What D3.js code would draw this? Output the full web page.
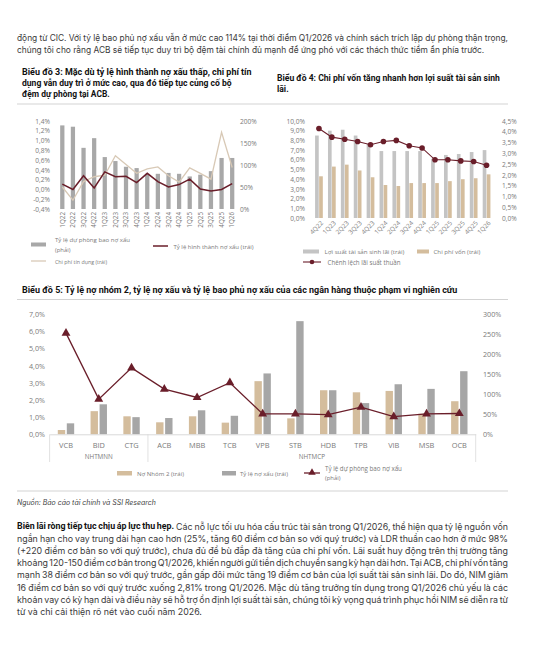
<!DOCTYPE html>
<html><head><meta charset="utf-8">
<script src="https://cdn.jsdelivr.net/npm/d3@7"></script>
<style>html,body{margin:0;padding:0;background:#fff;}svg{display:block}</style>
</head><body>
<svg id="page" width="542" height="659"></svg>
<script>
// ---------------- DATA ----------------
const topParagraph = [
  "động từ CIC. Với tỷ lệ bao phủ nợ xấu vẫn ở mức cao 114% tại thời điểm Q1/2026 và chính sách trích lập dự phòng thận trọng,",
  "chúng tôi cho rằng ACB sẽ tiếp tục duy trì bộ đệm tài chính đủ mạnh để ứng phó với các thách thức tiềm ẩn phía trước."
];
const title3 = ["Biểu đồ 3: Mặc dù tỷ lệ hình thành nợ xấu thấp, chi phí tín",
                "dụng vẫn duy trì ở mức cao, qua đó tiếp tục củng cố bộ",
                "đệm dự phòng tại ACB."];
const title4 = ["Biểu đồ 4: Chi phí vốn tăng nhanh hơn lợi suất tài sản sinh", "lãi."];
const title5 = "Biểu đồ 5: Tỷ lệ nợ nhóm 2, tỷ lệ nợ xấu và tỷ lệ bao phủ nợ xấu của các ngân hàng thuộc phạm vi nghiên cứu";

// Chart 3
const c3Quarters = ["1Q22","2Q22","3Q22","4Q22","1Q23","2Q23","3Q23","4Q23","1Q24","2Q24","3Q24","4Q24","1Q25","2Q25","3Q25","4Q25","1Q26"];
const c3Coverage = [190,187,139,161,118,109,96,93,80,80,82,80,74,78,86,116,116];           // right axis, %
const c3NplFormation = [0.11,0.00,0.28,0.03,0.36,0.26,0.27,0.14,0.33,0.16,0.05,0.10,0.21,0.01,-0.03,0.00,0.12]; // left, %
const c3CreditCost = [0.05,-0.22,0.16,0.26,0.29,0.69,0.51,0.33,0.42,0.46,0.28,0.15,0.44,0.33,0.21,1.17,0.45];    // left, %
const c3LeftTicks = [-0.4,-0.2,0,0.2,0.4,0.6,0.8,1.0,1.2,1.4];
const c3RightTicks = [0,50,100,150,200];
const c3Legend = ["Tỷ lệ dự phòng bao nợ xấu", "(phải)", "Tỷ lệ hình thành nợ xấu (trái)", "Chi phí tín dụng (trái)"];

// Chart 4
const c4Quarters = ["4Q22","1Q23","2Q23","3Q23","4Q23","1Q24","2Q24","3Q24","4Q24","1Q25","2Q25","3Q25","4Q25","1Q26"];
const c4Yield = [8.5,9.0,9.1,8.5,7.6,6.9,6.9,6.9,6.9,6.1,6.5,6.6,6.8,7.0];
const c4CoF = [4.3,5.3,5.5,4.9,4.2,3.4,3.3,3.6,3.6,3.6,3.8,4.0,4.1,4.5];
const c4NIM = [4.15,3.75,3.65,3.55,3.4,3.55,3.6,3.35,3.25,2.7,2.7,2.65,2.62,2.45];
const c4LeftTicks = [0,1,2,3,4,5,6,7,8,9,10];
const c4RightTicks = [0,0.5,1,1.5,2,2.5,3,3.5,4,4.5];
const c4Legend = ["Lợi suất tài sản sinh lãi (trái)", "Chi phí vốn (trái)", "Chênh lệch lãi suất thuần"];

// Chart 5
const c5Banks = ["VCB","BID","CTG","ACB","MBB","TCB","VPB","STB","HDB","TPB","VIB","MSB","OCB"];
const c5Groups = [{name:"NHTMNN", from:0, to:3},{name:"NHTMCP", from:3, to:13}];
const c5Group2 = [0.25,1.35,1.05,0.70,1.05,0.68,3.10,0.93,2.57,2.45,2.53,1.20,1.93];
const c5NPL = [0.64,1.75,1.00,0.95,1.40,1.08,3.55,6.60,2.57,1.82,2.92,2.65,3.68];
const c5Coverage = [253,88,166,113,92,129,51,51,49,68,44,51,52];
const c5LeftTicks = [0,1,2,3,4,5,6,7];
const c5RightTicks = [0,50,100,150,200,250,300];
const c5Legend = ["Nợ Nhóm 2 (trái)", "Tỷ lệ nợ xấu (trái)", "Tỷ lệ dự phòng bao nợ xấu", "(phải)"];
const sourceText = "Nguồn: Báo cáo tài chính và SSI Research";

const bottomBold = "Biên lãi ròng tiếp tục chịu áp lực thu hẹp.";
const bottomParagraph = [
  " Các nỗ lực tối ưu hóa cấu trúc tài sản trong Q1/2026, thể hiện qua tỷ lệ nguồn vốn",
  "ngắn hạn cho vay trung dài hạn cao hơn (25%, tăng 60 điểm cơ bản so với quý trước) và LDR thuần cao hơn ở mức 98%",
  "(+220 điểm cơ bản so với quý trước), chưa đủ để bù đắp đà tăng của chi phí vốn. Lãi suất huy động trên thị trường tăng",
  "khoảng 120-150 điểm cơ bản trong Q1/2026, khiến người gửi tiền dịch chuyển sang kỳ hạn dài hơn. Tại ACB, chi phí vốn tăng",
  "mạnh 38 điểm cơ bản so với quý trước, gần gấp đôi mức tăng 19 điểm cơ bản của lợi suất tài sản sinh lãi. Do đó, NIM giảm",
  "16 điểm cơ bản so với quý trước xuống 2,81% trong Q1/2026. Mặc dù tăng trưởng tín dụng trong Q1/2026 chủ yếu là các",
  "khoản vay có kỳ hạn dài và điều này sẽ hỗ trợ ổn định lợi suất tài sản, chúng tôi kỳ vọng quá trình phục hồi NIM sẽ diễn ra từ",
  "từ và chỉ cải thiện rõ nét vào cuối năm 2026."
];

// ---------------- STYLE ----------------
const F_BODY = "Inter, 'Noto Sans', sans-serif";
const F_TITLE = "Roboto, 'Liberation Sans', sans-serif";
const F_AX = "'Open Sans', Lato, sans-serif";
const C_BODY = "#3a3a3a", C_AX = "#7a7a7a", C_RULE = "#c8c8c8";
const C_GRAY3 = "#a8a8a8", C_GRAY4 = "#c4c4c4", C_GRAY5 = "#a6a6a6", C_TAN = "#d4bd9d";
const C_DARK = "#6a1e2a", C_LIGHT = "#d8c9b6";

const svg = d3.select("#page");
svg.append("rect").attr("width",542).attr("height",659).attr("fill","#fff");

const loc = d3.formatLocale({decimal:",", thousands:".", grouping:[3], currency:["",""], minus:"-"});
const pct1 = v => loc.format(".1f")(v) + "%";
const pct0 = v => loc.format(".0f")(v) + "%";

function fit(sel, target){
  const w = sel.node().getComputedTextLength();
  const fs = parseFloat(sel.attr("font-size"));
  sel.attr("font-size", fs*target/w);
  return sel;
}
function txt(x, y, s, opt){
  opt = opt || {};
  const t = svg.append("text").attr("x",x).attr("y",y).text(s)
    .attr("font-family", opt.family || F_AX).attr("font-size", opt.size || 10)
    .attr("fill", opt.fill || C_AX);
  if (opt.weight) t.attr("font-weight", opt.weight);
  if (opt.style) t.attr("font-style", opt.style);
  if (opt.width) fit(t, opt.width);
  t.attr("dominant-baseline","central");
  return t;
}
function hrule(y, x1, x2){
  svg.append("line").attr("x1",x1).attr("x2",x2).attr("y1",y).attr("y2",y)
    .attr("stroke",C_RULE).attr("stroke-width",0.8);
}

// ---------------- PARAGRAPHS ----------------
function paragraph(lines, x, y0, lh, width, lastWidth, bold){
  // size from last line
  const probe = svg.append("text").attr("font-family",F_BODY).attr("font-size",10).text(lines[lines.length-1]);
  const fs = 10*lastWidth/probe.node().getComputedTextLength();
  probe.remove();
  lines.forEach((ln, i) => {
    const t = svg.append("text").attr("x",x).attr("y",y0+i*lh).attr("font-family",F_BODY)
      .attr("font-size",fs).attr("fill",C_BODY).attr("dominant-baseline","central")
      .attr("xml:space","preserve");
    let full = ln;
    if (i===0 && bold){
      t.append("tspan").attr("font-family",F_TITLE).attr("font-weight",700).attr("fill","#111").text(bold);
      full = bold + ln;
    }
    t.append("tspan").text(ln);
    if (i < lines.length-1){
      const nat = t.node().getComputedTextLength();
      const sp = (full.match(/ /g)||[]).length;
      if (sp>0) t.attr("word-spacing", (width-nat)/sp);
    }
  });
}
paragraph(topParagraph, 17, 37.5, 12.4, 491, 468);
paragraph(bottomParagraph, 17, 525.5, 12.2, 491, 185, bottomBold);

// ---------------- TITLES ----------------
const tW3 = [230, 210, 88];
title3.forEach((s,i)=>txt(22, 72+i*11, s, {family:F_TITLE, weight:700, fill:"#111", width:tW3[i]}));
const t4a = txt(277, 78, title4[0], {family:F_TITLE, weight:700, fill:"#111", width:223});
txt(277, 89, title4[1], {family:F_TITLE, weight:700, fill:"#111", size:t4a.attr("font-size")});
hrule(104, 17, 508);
txt(22, 290, title5, {family:F_TITLE, weight:700, fill:"#111", width:436});
hrule(299.5, 17, 508);
hrule(491, 17, 508);
txt(17, 502, sourceText, {family:F_BODY, style:"italic", fill:"#444", width:139});

function styleAxis(g, size){
  g.select(".domain").remove();
  g.selectAll(".tick line").remove();
  g.selectAll("text").attr("fill",C_AX).attr("font-family",F_AX).attr("font-size",size);
}

// ---------------- CHART 3 ----------------
(function(){
  const top=121, bot=209;
  const x = d3.scaleBand().domain(c3Quarters).range([57,237.5]).paddingInner(0.6).paddingOuter(0.3);
  const yL = d3.scaleLinear().domain([-0.4,1.4]).range([bot,top]);
  const yR = d3.scaleLinear().domain([0,200]).range([bot,top]);
  const cx = q => x(q)+x.bandwidth()/2;
  svg.append("g").selectAll("rect").data(c3Quarters).join("rect")
    .attr("x",d=>x(d)).attr("width",x.bandwidth())
    .attr("y",(d,i)=>yR(c3Coverage[i])).attr("height",(d,i)=>yR(0)-yR(c3Coverage[i]))
    .attr("fill",C_GRAY3);
  const line = d3.line().x((d,i)=>cx(c3Quarters[i])).y(d=>yL(d));
  svg.append("path").attr("d",line(c3CreditCost)).attr("fill","none").attr("stroke",C_LIGHT).attr("stroke-width",1.3);
  svg.append("path").attr("d",line(c3NplFormation)).attr("fill","none").attr("stroke",C_DARK).attr("stroke-width",1.5);
  const gl = svg.append("g").attr("transform","translate(50,0)")
    .call(d3.axisLeft(yL).tickValues(c3LeftTicks).tickFormat(pct1).tickSize(0).tickPadding(0));
  styleAxis(gl, 6.6);
  const gr = svg.append("g").attr("transform","translate(240,0)")
    .call(d3.axisRight(yR).tickValues(c3RightTicks).tickFormat(pct0).tickSize(0).tickPadding(0));
  styleAxis(gr, 6.6);
  const gx = svg.append("g").attr("transform",`translate(0,${bot})`)
    .call(d3.axisBottom(x).tickSize(0).tickPadding(0));
  gx.select(".domain").remove();
  gx.selectAll(".tick text").attr("transform","translate(0,3) rotate(-90)").attr("text-anchor","end")
    .attr("dy","0.35em").attr("y",0).attr("x",0)
    .attr("fill",C_AX).attr("font-family",F_AX).attr("font-size",6.3);
  // legend
  svg.append("rect").attr("x",31).attr("y",242.5).attr("width",15).attr("height",4).attr("fill",C_GRAY3);
  txt(55, 240, c3Legend[0], {size:5.9, width:75});
  txt(55, 250, c3Legend[1], {size:5.9});
  svg.append("line").attr("x1",153).attr("x2",168).attr("y1",246).attr("y2",246).attr("stroke",C_DARK).attr("stroke-width",1.5);
  txt(173.5, 246.5, c3Legend[2], {size:5.9, width:80});
  svg.append("line").attr("x1",31).attr("x2",46).attr("y1",261).attr("y2",261).attr("stroke",C_LIGHT).attr("stroke-width",1.3);
  txt(55, 261.5, c3Legend[3], {size:5.9, width:52});
})();

// ---------------- CHART 4 ----------------
(function(){
  const top=121, bot=218;
  const x = d3.scaleBand().domain(c4Quarters).range([312.5,493]).paddingInner(0.4).paddingOuter(0.2);
  const xs = d3.scaleBand().domain(["y","c"]).range([0,x.bandwidth()]).paddingInner(0.1);
  const yL = d3.scaleLinear().domain([0,10]).range([bot,top]);
  const yR = d3.scaleLinear().domain([0,4.5]).range([bot,top]);
  const cx = q => x(q)+x.bandwidth()/2;
  svg.append("g").selectAll("rect").data(c4Quarters).join("rect")
    .attr("x",d=>x(d)+xs("y")).attr("width",xs.bandwidth())
    .attr("y",(d,i)=>yL(c4Yield[i])).attr("height",(d,i)=>yL(0)-yL(c4Yield[i])).attr("fill",C_GRAY4);
  svg.append("g").selectAll("rect").data(c4Quarters).join("rect")
    .attr("x",d=>x(d)+xs("c")).attr("width",xs.bandwidth())
    .attr("y",(d,i)=>yL(c4CoF[i])).attr("height",(d,i)=>yL(0)-yL(c4CoF[i])).attr("fill",C_TAN);
  const line = d3.line().x((d,i)=>cx(c4Quarters[i])).y(d=>yR(d));
  svg.append("path").attr("d",line(c4NIM)).attr("fill","none").attr("stroke",C_DARK).attr("stroke-width",1.1);
  svg.append("g").selectAll("circle").data(c4NIM).join("circle")
    .attr("cx",(d,i)=>cx(c4Quarters[i])).attr("cy",d=>yR(d)).attr("r",2.8).attr("fill",C_DARK);
  const gl = svg.append("g").attr("transform","translate(305,0)")
    .call(d3.axisLeft(yL).tickValues(c4LeftTicks).tickFormat(pct1).tickSize(0).tickPadding(0));
  styleAxis(gl, 6.6);
  const gr = svg.append("g").attr("transform","translate(502,0)")
    .call(d3.axisRight(yR).tickValues(c4RightTicks).tickFormat(pct1).tickSize(0).tickPadding(0));
  styleAxis(gr, 6.6);
  const gx = svg.append("g").attr("transform",`translate(0,${bot})`)
    .call(d3.axisBottom(x).tickSize(0).tickPadding(0));
  gx.select(".domain").remove();
  gx.selectAll(".tick text").attr("transform","translate(3,4) rotate(-45)").attr("text-anchor","end")
    .attr("dy","0.35em").attr("y",0).attr("x",0)
    .attr("fill",C_AX).attr("font-family",F_AX).attr("font-size",6.3);
  // legend
  svg.append("rect").attr("x",303).attr("y",249.5).attr("width",16).attr("height",4).attr("fill",C_GRAY4);
  txt(324.5, 251.5, c4Legend[0], {size:5.5, width:80});
  svg.append("rect").attr("x",417).attr("y",249.5).attr("width",12).attr("height",4).attr("fill",C_TAN);
  txt(433.5, 251.5, c4Legend[1], {size:5.5, width:47});
  svg.append("line").attr("x1",303).attr("x2",321).attr("y1",262).attr("y2",262).attr("stroke",C_DARK).attr("stroke-width",1.1);
  svg.append("circle").attr("cx",312).attr("cy",262).attr("r",2.3).attr("fill",C_DARK);
  txt(327.5, 262.5, c4Legend[2], {size:5.5, width:73});
})();

// ---------------- CHART 5 ----------------
(function(){
  const top=314.3, bot=434.3;
  const x = d3.scaleBand().domain(c5Banks).range([49.6,475.7]).paddingInner(0.5).paddingOuter(0.25);
  const xs = d3.scaleBand().domain(["g2","npl"]).range([0,x.bandwidth()]).paddingInner(0.18);
  const yL = d3.scaleLinear().domain([0,7]).range([bot,top]);
  const yR = d3.scaleLinear().domain([0,300]).range([bot,top]);
  const cx = b => x(b)+x.bandwidth()/2;
  svg.append("g").selectAll("rect").data(c5Banks).join("rect")
    .attr("x",d=>x(d)+xs("g2")).attr("width",xs.bandwidth())
    .attr("y",(d,i)=>yL(c5Group2[i])).attr("height",(d,i)=>yL(0)-yL(c5Group2[i])).attr("fill",C_TAN);
  svg.append("g").selectAll("rect").data(c5Banks).join("rect")
    .attr("x",d=>x(d)+xs("npl")).attr("width",xs.bandwidth())
    .attr("y",(d,i)=>yL(c5NPL[i])).attr("height",(d,i)=>yL(0)-yL(c5NPL[i])).attr("fill",C_GRAY5);
  const line = d3.line().x((d,i)=>cx(c5Banks[i])).y(d=>yR(d));
  svg.append("path").attr("d",line(c5Coverage)).attr("fill","none").attr("stroke",C_DARK).attr("stroke-width",1.3);
  const tri = d3.symbol(d3.symbolTriangle).size(34);
  svg.append("g").selectAll("path").data(c5Coverage).join("path")
    .attr("transform",(d,i)=>`translate(${cx(c5Banks[i])},${yR(d)})`).attr("d",tri).attr("fill",C_DARK);
  const gl = svg.append("g").attr("transform","translate(45,0)")
    .call(d3.axisLeft(yL).tickValues(c5LeftTicks).tickFormat(pct1).tickSize(0).tickPadding(0));
  styleAxis(gl, 7.2);
  const gr = svg.append("g").attr("transform","translate(483,0)")
    .call(d3.axisRight(yR).tickValues(c5RightTicks).tickFormat(pct0).tickSize(0).tickPadding(0));
  styleAxis(gr, 7.2);
  const gx = svg.append("g").attr("transform",`translate(0,${bot})`)
    .call(d3.axisBottom(x).tickSize(0).tickPadding(8.5));
  gx.select(".domain").attr("stroke","#d9d9d9");
  gx.selectAll(".tick text").attr("fill",C_AX).attr("font-family",F_AX).attr("font-size",7.4);
  // group separators and labels
  const r0 = x.range()[0], st = x.step();
  const seps = [0,3,13];
  svg.append("g").selectAll("line").data(seps).join("line")
    .attr("x1",d=>r0+d*st).attr("x2",d=>r0+d*st).attr("y1",bot).attr("y2",462)
    .attr("stroke","#d9d9d9").attr("stroke-width",0.8);
  c5Groups.forEach(g=>{
    txt(r0+(g.from+g.to)/2*st, 456.5, g.name, {size:6.3}).attr("text-anchor","middle");
  });
  // legend
  svg.append("rect").attr("x",117).attr("y",471).attr("width",15).attr("height",4.5).attr("fill",C_TAN);
  txt(137, 473.5, c5Legend[0], {size:5.9, width:47});
  svg.append("rect").attr("x",222).attr("y",471).attr("width",14).attr("height",4.5).attr("fill",C_GRAY5);
  txt(240, 473.5, c5Legend[1], {size:5.9, width:48});
  svg.append("line").attr("x1",304).attr("x2",320).attr("y1",473).attr("y2",473).attr("stroke",C_DARK).attr("stroke-width",1.3);
  svg.append("path").attr("transform","translate(312,472.5)").attr("d",d3.symbol(d3.symbolTriangle).size(24)).attr("fill",C_DARK);
  txt(325, 468.3, c5Legend[2], {size:5.9, width:77});
  txt(325, 478, c5Legend[3], {size:5.9});
})();
</script>
</body></html>
